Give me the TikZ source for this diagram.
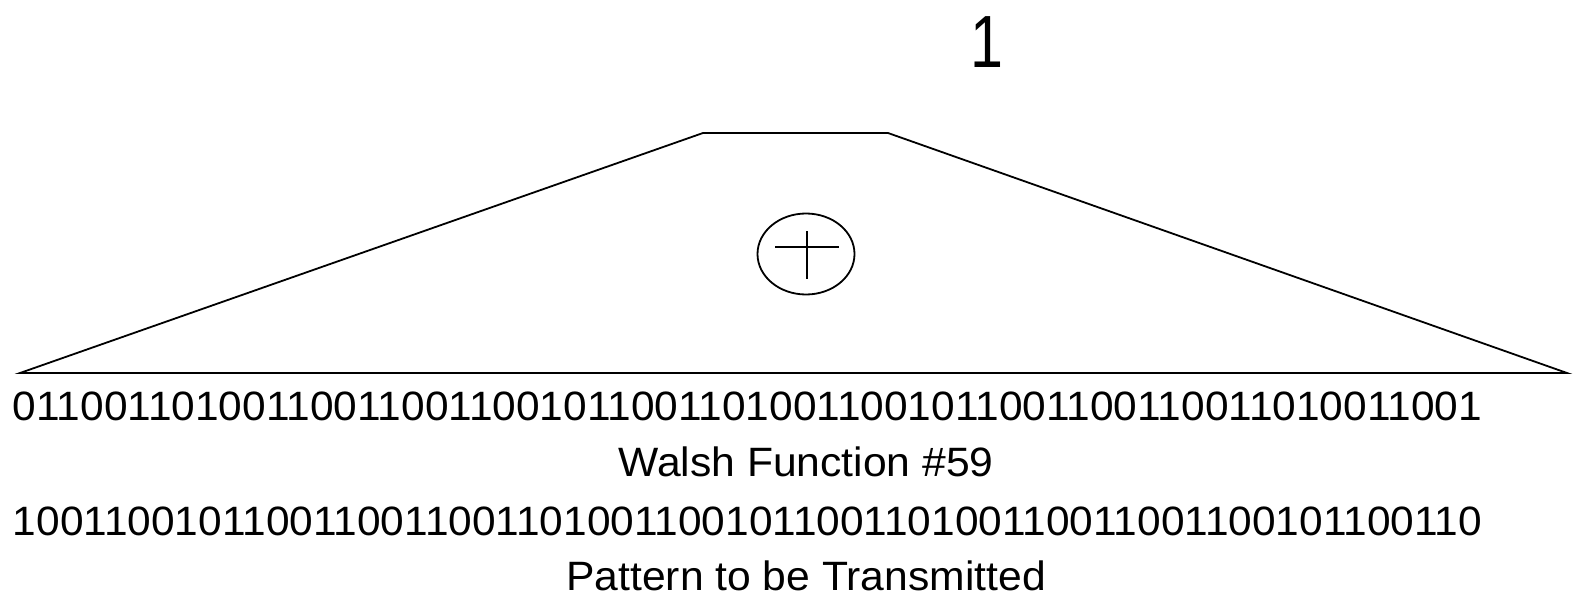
\documentclass[tikz,border=0pt]{standalone}
\usepackage{fontspec}
\setmainfont{Liberation Sans}
\newfontfamily\bitfont[FakeStretch=1.035]{Liberation Sans}
\newfontfamily\capfont[FakeStretch=1.04]{Liberation Sans}
\newfontfamily\onefont[FakeStretch=0.8]{Liberation Sans}
\usetikzlibrary{shapes.geometric}
\begin{document}
\begin{tikzpicture}[x=1pt,y=-1pt,line width=1.8pt,
  bits/.style={inner sep=0pt,anchor=base west,font=\bitfont\fontsize{41}{41}\selectfont},
  caption/.style={inner sep=0pt,anchor=base,font=\capfont\fontsize{41}{41}\selectfont}]
\useasboundingbox (0,0) rectangle (1575,597);
\coordinate (bl) at (20,373);
\coordinate (tl) at (703,133);
\coordinate (tr) at (888,133);
\coordinate (br) at (1567,373);
\draw (bl) -- (tl) -- (tr) -- (br) -- cycle;
\node[draw,ellipse,minimum width=97pt,minimum height=81pt,inner sep=0pt] (xor) at (806,254) {};
\coordinate (hl) at (775,247);
\coordinate (hr) at (839,247);
\coordinate (vt) at (807,231);
\coordinate (vb) at (807,279);
\draw (hl) -- (hr);
\draw (vt) -- (vb);
\node[inner sep=0pt,anchor=base,font=\onefont\fontsize{74}{74}\selectfont] (one) at (987,67) {1};
\node[bits] (walsh) at (12,420) {0110011010011001100110010110011010011001011001100110011010011001};
\node[caption] (walshlbl) at (806,476) {Walsh Function \#59};
\node[bits] (pattern) at (12,535) {1001100101100110011001101001100101100110100110011001100101100110};
\node[caption] (patlbl) at (806,590) {Pattern to be Transmitted};
\end{tikzpicture}
\end{document}
